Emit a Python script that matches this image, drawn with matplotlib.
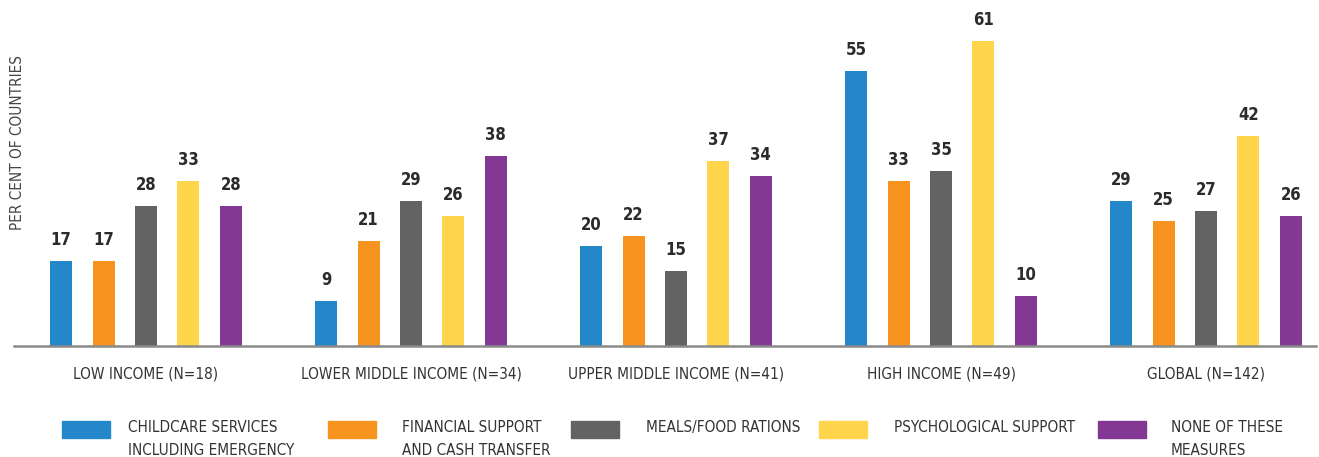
import numpy as np
import matplotlib
matplotlib.use("Agg")
import matplotlib.pyplot as plt
from matplotlib.patches import Rectangle

plt.rcParams['font.family'] = ['DejaVu Sans']
plt.rcParams['font.stretch'] = 'condensed'

groups = ["LOW INCOME (N=18)", "LOWER MIDDLE INCOME (N=34)", "UPPER MIDDLE INCOME (N=41)",
          "HIGH INCOME (N=49)", "GLOBAL (N=142)"]
series = ["CHILDCARE SERVICES\nINCLUDING EMERGENCY", "FINANCIAL SUPPORT\nAND CASH TRANSFER",
          "MEALS/FOOD RATIONS", "PSYCHOLOGICAL SUPPORT", "NONE OF THESE\nMEASURES"]
childcare = [17, 9, 20, 55, 29]
financial = [17, 21, 22, 33, 25]
meals = [28, 29, 15, 35, 27]
psych = [33, 26, 37, 61, 42]
none_ = [28, 38, 34, 10, 26]
colors = ["#2387C9", "#F7931F", "#636363", "#FFD54B", "#833993"]

W, H = 1319, 457
fig = plt.figure(figsize=(W / 100, H / 100), dpi=100)
ax = fig.add_axes([14 / W, 1 - 346 / H, (1316 - 14) / W, 346 / H])

x = np.arange(len(groups))
step = 0.16
width = 0.083
for i, vals in enumerate([childcare, financial, meals, psych, none_]):
    pos = x + (i - 2) * step
    ax.bar(pos, vals, width=width, color=colors[i])
    for p, v in zip(pos, vals):
        ax.text(p, v + 2.4, str(v), ha="center", va="bottom", fontsize=12,
                fontweight="bold", color="#2b2b2b")

ax.set_xlim(-0.498, 4.415)
ax.set_ylim(0, 69.2)
for s in ["top", "right", "left"]:
    ax.spines[s].set_visible(False)
ax.spines["bottom"].set_color("#8a8a8a")
ax.spines["bottom"].set_linewidth(1.8)
ax.set_yticks([])
ax.set_xticks(x)
ax.set_xticklabels(groups, fontsize=11, color="#333333")
ax.tick_params(axis="x", length=0, pad=15)

fig.text(18 / W, 1 - 143 / H, "PER CENT OF COUNTRIES", rotation=90, ha="center",
         va="center", fontsize=11, color="#444444")

# legend
patch_x = [62, 328, 571, 819, 1098]
text_x = [128, 402, 646, 894, 1171]
for i in range(len(series)):
    fig.patches.append(Rectangle((patch_x[i] / W, 1 - 438 / H), 48 / W, 17 / H,
                                 transform=fig.transFigure, color=colors[i]))
    fig.text(text_x[i] / W, 1 - 420 / H, series[i], ha="left", va="top",
             fontsize=11, color="#333333", linespacing=1.65)

fig.savefig("out.png", dpi=100)
